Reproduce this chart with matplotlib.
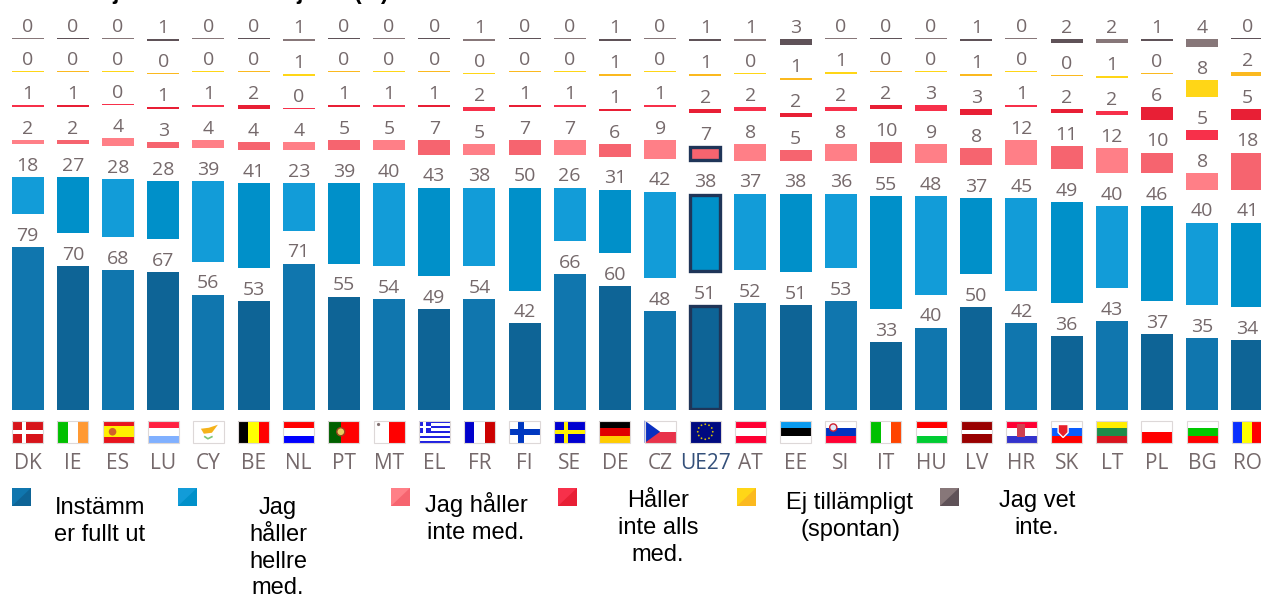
import numpy as np
import matplotlib
matplotlib.use('Agg')
import matplotlib.pyplot as plt
from matplotlib.patches import Rectangle, Polygon, Circle

# Values (%), bottom segment first
countries = ['DK', 'IE', 'ES', 'LU', 'CY', 'BE', 'NL', 'PT', 'MT', 'EL', 'FR', 'FI', 'SE', 'DE',
             'CZ', 'UE27', 'AT', 'EE', 'SI', 'IT', 'HU', 'LV', 'HR', 'SK', 'LT', 'PL', 'BG', 'RO']
fully = [79, 70, 68, 67, 56, 53, 71, 55, 54, 49, 54, 42, 66, 60, 48, 51, 52, 51, 53, 33, 40, 50, 42, 36, 43, 37, 35, 34]
rather = [18, 27, 28, 28, 39, 41, 23, 39, 40, 43, 38, 50, 26, 31, 42, 38, 37, 38, 36, 55, 48, 37, 45, 49, 40, 46, 40, 41]
disagree = [2, 2, 4, 3, 4, 4, 4, 5, 5, 7, 5, 7, 7, 6, 9, 7, 8, 5, 8, 10, 9, 8, 12, 11, 12, 10, 8, 18]
strongly = [1, 1, 0, 1, 1, 2, 0, 1, 1, 1, 2, 1, 1, 1, 1, 2, 2, 2, 2, 2, 3, 3, 1, 2, 2, 6, 5, 5]
not_appl = [0, 0, 0, 0, 0, 0, 1, 0, 0, 0, 0, 0, 0, 1, 0, 1, 0, 1, 1, 0, 0, 1, 0, 0, 1, 0, 8, 2]
dont_know = [0, 0, 0, 1, 0, 0, 1, 0, 0, 0, 1, 0, 0, 1, 0, 1, 1, 3, 0, 0, 0, 1, 0, 2, 2, 1, 4, 0]
series = [fully, rather, disagree, strongly, not_appl, dont_know]

legend_labels = ['Instämm\ner fullt ut', 'Jag\nhåller\nhellre\nmed.', 'Jag håller\ninte med.',
                 'Håller\ninte alls\nmed.', 'Ej tillämpligt\n(spontan)', 'Jag vet\ninte.']

# light / dark shade, they alternate from one column to the next
light = ['#1076AE', '#129CD8', '#FF7F87', '#F7304A', '#FFD617', '#877779']
dark = ['#0E6496', '#0090C9', '#F6646F', '#E81F35', '#FBB91F', '#5F5258']
TEXT = '#75696B'
NAVY = '#1F3558'

W, H = 1261, 599
BASE_Y = 410
PX_PER_PCT = 2.06
GAP = 16  # empty space for the number above each segment, in %
X0, PITCH = 27.7, 45.17

plt.rcParams['font.family'] = ['Open Sans', 'DejaVu Sans']
fig = plt.figure(figsize=(W / 100, H / 100), dpi=100)
ax = fig.add_axes([0, (H - BASE_Y) / H, 1, BASE_Y / H])
ax.set_xlim(-X0 / PITCH, (W - X0) / PITCH)
ax.set_ylim(0, BASE_Y / PX_PER_PCT)
for s in ax.spines.values():
    s.set_visible(False)
ax.set_yticks([])

x = np.arange(len(countries))
eu = countries.index('UE27')
bottom = np.zeros(len(countries))
for k, vals in enumerate(series):
    vals = np.array(vals)
    colors = [light[k] if i % 2 == 0 else dark[k] for i in x]
    # a zero still shows as a hairline in the original
    heights = np.maximum(vals, 0.6)
    bars = ax.bar(x, heights, 0.71, bottom=bottom, color=colors, edgecolor='none')
    if k < 3:
        r = bars[eu]
        ax.add_patch(Rectangle((r.get_x() + 0.022, r.get_y() + 0.5), r.get_width() - 0.044,
                               r.get_height() - 1.0, fill=False, ec=NAVY, lw=2.4, zorder=3))
    for i in x:
        ax.annotate(str(vals[i]), (i, bottom[i] + heights[i]), xytext=(0, 4.5),
                    textcoords='offset points', ha='center', va='baseline',
                    fontsize=14, color=TEXT)
    bottom = bottom + vals + GAP

ax.set_xticks(x)
ax.set_xticklabels(countries, fontsize=15)
ax.tick_params(axis='x', length=0, pad=31, labelcolor=TEXT)
ax.get_xticklabels()[eu].set_color('#34507A')

# overlay in pixels for flags, legend, cropped heading
ov = fig.add_axes([0, 0, 1, 1], zorder=5)
ov.set_xlim(0, W)
ov.set_ylim(H, 0)
ov.axis('off')
ov.patch.set_alpha(0)

FY0, FY1 = 420.5, 443
FW = 31


def rect(x0, y0, w, h, c, z=6):
    ov.add_patch(Rectangle((x0, y0), w, h, fc=c, ec='none', zorder=z))


def hstripes(x0, cols, fracs=None):
    fracs = fracs or [1 / len(cols)] * len(cols)
    y = FY0
    for c, f in zip(cols, fracs):
        rect(x0, y, FW, f * (FY1 - FY0), c)
        y += f * (FY1 - FY0)


def vstripes(x0, cols):
    for j, c in enumerate(cols):
        rect(x0 + j * FW / len(cols), FY0, FW / len(cols), FY1 - FY0, c)


def cross(x0, bg, fg, t=0.2):
    fh = FY1 - FY0
    rect(x0, FY0, FW, fh, bg)
    rect(x0, FY0 + fh * (0.5 - t / 2), FW, fh * t, fg, 7)
    rect(x0 + FW * 0.3, FY0, fh * t, fh, fg, 7)


def draw_flag(code, x0):
    fh = FY1 - FY0
    cx, cy = x0 + FW / 2, (FY0 + FY1) / 2
    if code == 'DK':
        cross(x0, '#D7141A', '#FFFFFF')
    elif code == 'IE':
        vstripes(x0, ['#00C000', '#FFFFFF', '#FF9933'])
    elif code == 'ES':
        hstripes(x0, ['#E8141C', '#FFF000', '#E8141C'], [0.25, 0.5, 0.25])
        ov.add_patch(Circle((x0 + 10, cy), 3.8, fc='#D0602A', ec='none', zorder=7))
    elif code == 'LU':
        hstripes(x0, ['#FF2040', '#FFFFFF', '#80B0FF'])
    elif code == 'CY':
        rect(x0, FY0, FW, fh, '#FFFFFF')
        ov.add_patch(Polygon([(x0 + 8, cy - 3), (x0 + 16, cy - 4), (x0 + 25, cy - 7), (x0 + 19, cy + 1),
                              (x0 + 11, cy + 2)], fc='#F5B21A', ec='none', zorder=7))
        ov.plot([x0 + 12, x0 + 15, x0 + 19], [cy + 5, cy + 7, cy + 5], color='#7CC576', lw=1.2, zorder=7)
    elif code == 'BE':
        vstripes(x0, ['#000000', '#FFFF00', '#FF0000'])
    elif code == 'NL':
        hstripes(x0, ['#FF0000', '#FFFFFF', '#0000FF'])
    elif code == 'PT':
        rect(x0, FY0, FW, fh, '#FF0000')
        rect(x0, FY0, FW * 0.4, fh, '#006000', 7)
        ov.add_patch(Circle((x0 + FW * 0.4, cy), 4, fc='#E8D060', ec='#A04020', lw=1, zorder=8))
    elif code == 'MT':
        vstripes(x0, ['#FFFFFF', '#FF0000'])
        ov.add_patch(Circle((x0 + 5, FY0 + 4), 1.6, fc='#807070', ec='none', zorder=7))
    elif code == 'EL':
        for j in range(9):
            rect(x0, FY0 + j * fh / 9, FW, fh / 9, '#2020E0' if j % 2 == 0 else '#FFFFFF')
        rect(x0, FY0, FW * 0.38, fh * 5 / 9, '#2020E0', 7)
        rect(x0, FY0 + fh * 2 / 9, FW * 0.38, fh / 9, '#FFFFFF', 8)
        rect(x0 + FW * 0.15, FY0, FW * 0.08, fh * 5 / 9, '#FFFFFF', 8)
    elif code == 'FR':
        vstripes(x0, ['#0000CC', '#FFFFFF', '#CC0000'])
    elif code == 'FI':
        cross(x0, '#FFFFFF', '#0038C0', 0.26)
    elif code == 'SE':
        cross(x0, '#0000D0', '#FFF000', 0.2)
    elif code == 'DE':
        hstripes(x0, ['#000000', '#E00000', '#FFCC00'])
    elif code == 'CZ':
        hstripes(x0, ['#FFFFFF', '#E8324A'])
        ov.add_patch(Polygon([(x0, FY0), (x0 + FW * 0.5, cy), (x0, FY1)], fc='#0A2FC0', ec='none', zorder=7))
    elif code == 'UE27':
        rect(x0, FY0, FW, fh, '#000A80')
        for a in np.deg2rad(np.arange(0, 360, 30)):
            ov.add_patch(Circle((cx + 7.5 * np.cos(a), cy + 7.5 * np.sin(a)), 0.9, fc='#D8C000', ec='none', zorder=7))
    elif code == 'AT':
        hstripes(x0, ['#FF0033', '#FFFFFF', '#FF0033'])
    elif code == 'EE':
        hstripes(x0, ['#0A9BF0', '#000000', '#FFFFFF'])
    elif code == 'SI':
        hstripes(x0, ['#FFFFFF', '#0033C0', '#FF0033'])
        ov.add_patch(Circle((x0 + 8, FY0 + 7), 3.6, fc='#E0E8F8', ec='#D02030', lw=1, zorder=7))
    elif code == 'IT':
        vstripes(x0, ['#00C000', '#FFFFFF', '#FF4400'])
    elif code == 'HU':
        hstripes(x0, ['#FF0000', '#FFFFFF', '#00CC33'])
    elif code == 'LV':
        hstripes(x0, ['#990000', '#FFFFFF', '#990000'], [0.4, 0.2, 0.4])
    elif code == 'HR':
        hstripes(x0, ['#FF0033', '#FFFFFF', '#3333CC'])
        rect(cx - 4, FY0 + 3, 8, 13, '#D04050', 7)
    elif code == 'SK':
        hstripes(x0, ['#FFFFFF', '#0A5CFF', '#FF0000'])
        ov.add_patch(Polygon([(x0 + 7, FY0 + 4), (x0 + 17, FY0 + 4), (x0 + 17, FY0 + 12), (x0 + 12, FY0 + 17),
                              (x0 + 7, FY0 + 12)], fc='#E8202A', ec='#FFFFFF', lw=1, zorder=7))
    elif code == 'LT':
        hstripes(x0, ['#FFEE00', '#1E8C4A', '#D8141E'])
    elif code == 'PL':
        hstripes(x0, ['#FFFFFF', '#FF0000'])
    elif code == 'BG':
        hstripes(x0, ['#FFFFFF', '#00C800', '#FF0000'])
    elif code == 'RO':
        vstripes(x0, ['#0A2FFF', '#FFFF00', '#FF0000'])
    ov.add_patch(Rectangle((x0, FY0), FW, fh, fill=False, ec='#DDD8D8', lw=0.8, zorder=9))


for i, code in enumerate(countries):
    draw_flag(code, X0 + PITCH * i - FW / 2)

# legend, squares are split along the diagonal
sq_x = [12, 178, 391, 558, 737, 940]
txt_x = [100, 278, 476, 658, 850, 1037]
txt_y = [497, 497, 492, 490, 492, 490]
for k in range(6):
    s0, y0, d = sq_x[k], 487.5, 18.5
    rect(s0, y0, d, d, light[k])
    ov.add_patch(Polygon([(s0 + d, y0), (s0 + d, y0 + d), (s0, y0 + d)], fc=dark[k], ec='none', zorder=7))
    ov.text(txt_x[k], txt_y[k], legend_labels[k], ha='center', va='top', fontsize=17,
            family='Liberation Sans', color='black', linespacing=1.28)

# heading is cut off by the top edge of the image, only descenders remain
for hx, t in [(116, 'j'), (300, 'j'), (372, '(%)')]:
    ov.text(hx, -1, t, ha='center', va='baseline', fontsize=16.5, fontweight='bold',
            family='Liberation Sans', color='black', clip_on=False)

fig.savefig('out.png', dpi=100)
